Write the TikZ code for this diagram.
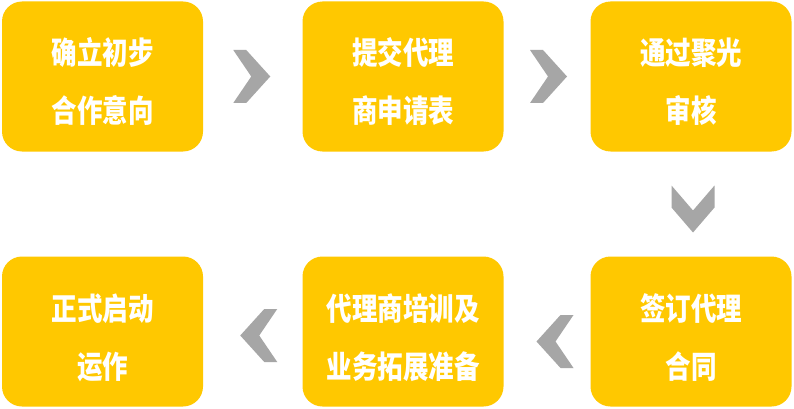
\documentclass[tikz,border=0pt]{standalone}
\usepackage{fontspec}
\newfontfamily\cjk{Noto Sans CJK SC}
\usetikzlibrary{calc}
\definecolor{boxyellow}{RGB}{255,200,0}
\definecolor{chevgray}{RGB}{166,166,166}
\tikzset{
  stepbox/.style={fill=boxyellow, rounded corners=20pt, minimum width=201pt, minimum height=150pt, inner sep=0pt},
  steptext/.style={text=white, align=center, font=\cjk\bfseries\fontsize{25.5}{47.5}\selectfont, inner sep=0pt, yscale=1.22, transform shape},
  chev/.pic={\fill[chevgray] (-18.5,-26.5) -- (-5.5,-26.5) -- (18.5,0) -- (-5.5,26.5) -- (-18.5,26.5) -- (-0.5,0) -- cycle;},
  chevdown/.pic={\fill[chevgray] (-21.5,-23.5) -- (0,1.5) -- (21.5,-23.5) -- (21.5,-1.5) -- (0,23.5) -- (-21.5,-1.5) -- cycle;}
}
\begin{document}
\begin{tikzpicture}[x=1pt,y=-1pt]
\fill[white] (0,0) rectangle (794,409);
\useasboundingbox (0,0) rectangle (794,409);
\node[stepbox] (a) at (102.5,76.5) {};
\node[stepbox] (b) at (403,76.5) {};
\node[stepbox] (c) at (691,76.5) {};
\node[stepbox] (d) at (691,331.5) {};
\node[stepbox] (e) at (403,331.5) {};
\node[stepbox] (f) at (102.5,331.5) {};
\node[steptext] (ta) at ($(a.center)+(0,5)$) {确立初步\\合作意向};
\node[steptext] (tb) at ($(b.center)+(0,5)$) {提交代理\\商申请表};
\node[steptext] (tc) at ($(c.center)+(0,5)$) {通过聚光\\审核};
\node[steptext] (td) at ($(d.center)+(0,6)$) {签订代理\\合同};
\node[steptext] (te) at ($(e.center)+(0,6)$) {代理商培训及\\业务拓展准备};
\node[steptext] (tf) at ($(f.center)+(0,6)$) {正式启动\\运作};
\coordinate (ab) at ($(a.east)!0.5!(b.west)+(-1,0)$);
\coordinate (bc) at ($(b.east)!0.5!(c.west)+(1.5,0)$);
\coordinate (cd) at ($(c.south)!0.5!(d.north)+(2,5)$);
\coordinate (de) at ($(e.east)!0.5!(d.west)+(8,10)$);
\coordinate (ef) at ($(f.east)!0.5!(e.west)+(6,4)$);
\pic at (ab) {chev};
\pic at (bc) {chev};
\pic at (cd) {chevdown};
\pic[xscale=-1] at (de) {chev};
\pic[xscale=-1] at (ef) {chev};
\end{tikzpicture}
\end{document}
